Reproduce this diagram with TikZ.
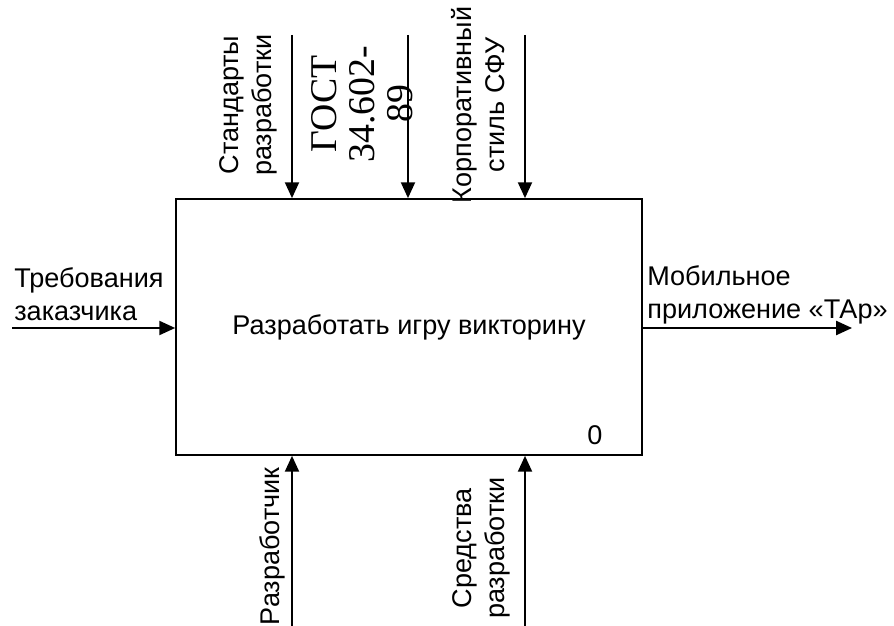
\documentclass[tikz,border=0pt]{standalone}
\usepackage{fontspec}
\setmainfont{Liberation Sans}
\newfontfamily\gostfont{Liberation Serif}
\usetikzlibrary{arrows.meta}

\begin{document}
\begin{tikzpicture}[x=0.02cm,y=0.02cm]
	\tikzset{flow/.style={line width=1pt,-{Triangle[length=9pt,width=8pt]}},
			every node/.style={font=\fontsize{15.4}{18.7}\selectfont,inner sep=0pt},
			vlabel/.style={rotate=90,align=center}}
	\useasboundingbox (0,0) rectangle (894,626);
	\node[draw,line width=1pt,minimum width=9.32cm,minimum height=5.12cm] (act) at (409,299) {Разработать игру викторину};
	\node (num) at (595,191) {0};
	\coordinate (ctl1) at (292,591);
	\coordinate (ctl2) at (408,591);
	\coordinate (ctl3) at (525,591);
	\coordinate (mech1) at (292,0);
	\coordinate (mech2) at (525,0);
	\coordinate (inp) at (12,298);
	\coordinate (outp) at (852,298);
	\draw[flow] (ctl1) -- (ctl1 |- act.north);
	\draw[flow] (ctl2) -- (ctl2 |- act.north);
	\draw[flow] (ctl3) -- (ctl3 |- act.north);
	\draw[flow] (mech1) -- (mech1 |- act.south);
	\draw[flow] (mech2) -- (mech2 |- act.south);
	\draw[flow] (inp) -- (inp -| act.west);
	\draw[flow] (outp -| act.east) -- (outp);
	\node[vlabel] (std) at (248,521) {Стандарты\\разработки};
	\node[vlabel,font=\gostfont\fontsize{21.5}{21.8}\selectfont] (gost) at (362,522) {ГОСТ\\34.602-\\89};
	\node[vlabel] (corp) at (478,521) {Корпоративный\\стиль СФУ};
	\node[vlabel,anchor=east] (dev) at (272,159) {Разработчик};
	\node[vlabel,anchor=east] (tools) at (481,149) {Средства\\разработки};
	\node[align=left,anchor=west] (req) at (14,332) {Требования\\заказчика};
	\node[align=left,anchor=west] (app) at (647,331) {Мобильное\\приложение «ТАр»};
\end{tikzpicture}
\end{document}
